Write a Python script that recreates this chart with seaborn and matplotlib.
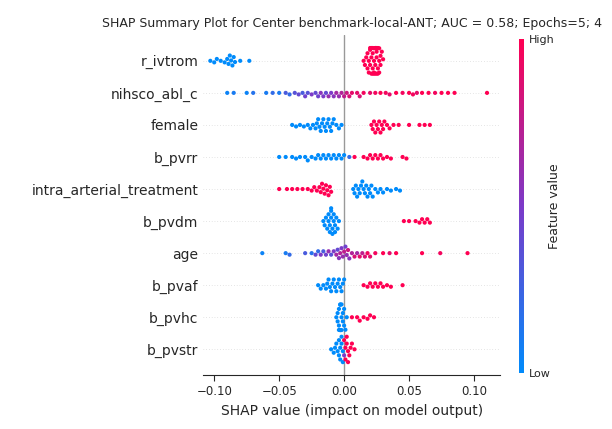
import numpy as np
import pandas as pd
import matplotlib
matplotlib.use("Agg")
import matplotlib.pyplot as plt
from matplotlib.colors import LinearSegmentedColormap
import seaborn as sns

FEATURES = ['r_ivtrom', 'nihsco_abl_c', 'female', 'b_pvrr', 'intra_arterial_treatment',
            'b_pvdm', 'age', 'b_pvaf', 'b_pvhc', 'b_pvstr']

# shap values and feature values (0 = low, 1 = high)
r_ivtrom_shap = [-0.103, -0.1, -0.098, -0.095, -0.092, -0.09, -0.089, -0.088, -0.087, -0.086, -0.085, -0.084, -0.08, -0.073,
                 0.015, 0.016, 0.017, 0.018, 0.018, 0.019, 0.019, 0.02, 0.02, 0.02, 0.021, 0.021, 0.021, 0.022, 0.022, 0.022,
                 0.022, 0.023, 0.023, 0.023, 0.023, 0.024, 0.024, 0.024, 0.024, 0.025, 0.025, 0.025, 0.025, 0.026, 0.026,
                 0.026, 0.027, 0.027, 0.027, 0.028, 0.028, 0.029, 0.03]
r_ivtrom_val = [0] * 14 + [1] * 39

nihsco_shap = [-0.09, -0.085, -0.075, -0.07, -0.06, -0.055, -0.05, -0.045, -0.042, -0.038, -0.035, -0.032, -0.03, -0.028,
               -0.025, -0.022, -0.02, -0.018, -0.016, -0.014, -0.012, -0.01, -0.008, -0.006, -0.004, -0.002, 0.0, 0.002,
               0.004, 0.006, 0.01, 0.012, 0.015, 0.02, 0.024, 0.028, 0.032, 0.035, 0.04, 0.045, 0.05, 0.053, 0.056,
               0.06, 0.065, 0.07, 0.075, 0.08, 0.085, 0.11]
nihsco_val = [0.05, 0.1, 0.05, 0.15, 0.1, 0.2, 0.1, 0.3, 0.2, 0.35, 0.4, 0.3, 0.45, 0.35, 0.5, 0.4, 0.45, 0.55, 0.5, 0.4,
              0.6, 0.5, 0.55, 0.65, 0.6, 0.7, 0.75, 0.8, 0.85, 0.9, 0.9, 0.85, 0.95, 0.9, 0.95, 1.0, 0.95, 0.9, 1.0, 0.95,
              1.0, 0.95, 0.9, 1.0, 1.0, 0.95, 1.0, 1.0, 1.0, 1.0]

female_shap = [-0.04, -0.037, -0.034, -0.031, -0.028, -0.026, -0.024, -0.022, -0.021, -0.02, -0.019, -0.018, -0.017,
               -0.016, -0.015, -0.014, -0.013, -0.012, -0.011, -0.01, -0.009, -0.008, -0.006, -0.004, -0.002,
               0.021, 0.022, 0.023, 0.024, 0.025, 0.026, 0.027, 0.028, 0.029, 0.03, 0.031, 0.033, 0.035, 0.038,
               0.042, 0.05, 0.058, 0.062, 0.066]
female_val = [0] * 25 + [1] * 19

b_pvrr_shap = [-0.05, -0.045, -0.04, -0.037, -0.034, -0.03, -0.028, -0.025, -0.022, -0.02, -0.018, -0.016, -0.014,
               -0.012, -0.01, -0.008, -0.006, -0.004, -0.002, 0.0, 0.004, 0.008, 0.015, 0.018, 0.02, 0.022, 0.024,
               0.026, 0.028, 0.03, 0.033, 0.036, 0.045, 0.048]
b_pvrr_val = [0] * 20 + [0.2, 1, 1, 1, 1, 1, 1, 1, 1, 1, 1, 1, 1, 1]

iat_shap = [-0.05, -0.044, -0.04, -0.036, -0.032, -0.028, -0.025, -0.023, -0.021, -0.019, -0.018, -0.017, -0.016,
            -0.015, -0.014, -0.013, -0.012, -0.011, -0.01, 0.007, 0.008, 0.009, 0.01, 0.011, 0.012, 0.013, 0.014,
            0.015, 0.016, 0.017, 0.018, 0.019, 0.02, 0.021, 0.022, 0.024, 0.026, 0.028, 0.03, 0.033, 0.036, 0.04, 0.043]
iat_val = [1] * 19 + [0] * 24

b_pvdm_shap = [-0.016, -0.015, -0.014, -0.013, -0.012, -0.012, -0.011, -0.011, -0.01, -0.01, -0.01, -0.009, -0.009,
               -0.008, -0.008, -0.007, -0.007, -0.006, -0.005, -0.004, 0.046, 0.05, 0.055, 0.058, 0.06, 0.062, 0.064, 0.066]
b_pvdm_val = [0] * 20 + [1] * 8

age_shap = [-0.063, -0.045, -0.042, -0.03, -0.025, -0.022, -0.02, -0.018, -0.016, -0.014, -0.012, -0.01, -0.008,
            -0.006, -0.005, -0.004, -0.003, -0.002, -0.001, 0.0, 0.001, 0.002, 0.003, 0.004, 0.006, 0.008, 0.01,
            0.012, 0.014, 0.016, 0.018, 0.02, 0.024, 0.03, 0.035, 0.04, 0.06, 0.074, 0.095]
age_val = [0.05, 0.1, 0.2, 0.3, 0.15, 0.4, 0.2, 0.5, 0.3, 0.45, 0.6, 0.35, 0.5, 0.65, 0.4, 0.55, 0.7, 0.5, 0.6, 0.75,
           0.45, 0.6, 0.8, 0.55, 0.7, 0.85, 0.65, 0.9, 0.75, 0.85, 0.95, 0.9, 0.95, 1.0, 0.9, 1.0, 1.0, 0.95, 1.0]

b_pvaf_shap = [-0.02, -0.018, -0.016, -0.014, -0.013, -0.012, -0.011, -0.01, -0.009, -0.008, -0.007, -0.006, -0.005,
               -0.004, -0.003, -0.002, -0.001, 0.0, 0.015, 0.018, 0.02, 0.022, 0.024, 0.026, 0.028, 0.03, 0.033,
               0.036, 0.045]
b_pvaf_val = [0] * 18 + [1] * 11

b_pvhc_shap = [-0.006, -0.005, -0.005, -0.004, -0.004, -0.004, -0.003, -0.003, -0.003, -0.003, -0.002, -0.002,
               -0.002, -0.001, -0.001, 0.0, 0.0, 0.001, 0.002, 0.006, 0.01, 0.012, 0.015, 0.018, 0.02, 0.023]
b_pvhc_val = [0] * 19 + [1] * 7

b_pvstr_shap = [-0.01, -0.008, -0.007, -0.006, -0.005, -0.004, -0.004, -0.003, -0.003, -0.002, -0.002, -0.001,
                -0.001, 0.0, 0.0, 0.001, 0.001, 0.002, 0.002, 0.003, 0.003, 0.004, 0.005, 0.006, 0.008]
b_pvstr_val = [0, 0, 0, 0, 0, 0, 0, 0, 0, 0, 0, 0, 0, 0.5, 1, 1, 1, 1, 1, 1, 1, 1, 1, 1, 1]

series = [
    (r_ivtrom_shap, r_ivtrom_val), (nihsco_shap, nihsco_val), (female_shap, female_val),
    (b_pvrr_shap, b_pvrr_val), (iat_shap, iat_val), (b_pvdm_shap, b_pvdm_val), (age_shap, age_val),
    (b_pvaf_shap, b_pvaf_val), (b_pvhc_shap, b_pvhc_val), (b_pvstr_shap, b_pvstr_val),
]
rows = []
for name, (s, v) in zip(FEATURES, series):
    for a, b in zip(s, v):
        rows.append({'feature': name, 'shap': a, 'value': b})
df = pd.DataFrame(rows)

cmap = LinearSegmentedColormap.from_list('shap_rb', ['#008bfb', '#7c3ac8', '#ff0052'])

sns.set_style('white')
fig = plt.figure(figsize=(6.12, 4.29), dpi=100)
ax = fig.add_axes([0.332, 0.126, 0.485, 0.792])

for i in range(len(FEATURES)):
    ax.axhline(i, color='#cccccc', lw=0.5, ls=(0, (1, 3)), zorder=0)
ax.axvline(0, color='#999999', lw=1, zorder=0)

sns.swarmplot(data=df, x='shap', y='feature', hue='value', order=FEATURES, palette=cmap,
              hue_norm=(0, 1), size=3, orient='h', legend=False, ax=ax, zorder=3, warn_thresh=1)

ax.set_xlim(-0.1085, 0.12)
ax.set_ylim(9.8, -0.8)
ax.set_xticks([-0.10, -0.05, 0.0, 0.05, 0.10])
ax.set_xticklabels(['\u22120.10', '\u22120.05', '0.00', '0.05', '0.10'], fontsize=8.5)
ax.set_xlabel('SHAP value (impact on model output)', fontsize=10)
ax.set_ylabel('')
ax.tick_params(axis='y', length=0, labelsize=10)
ax.tick_params(axis='x', length=4, bottom=True)
for sp in ['top', 'right', 'left']:
    ax.spines[sp].set_visible(False)
ax.set_title('SHAP Summary Plot for Center benchmark-local-ANT; AUC = 0.58; Epochs=5; 4', fontsize=9)

cax = fig.add_axes([0.848, 0.13, 0.008, 0.78])
sm = plt.cm.ScalarMappable(cmap=cmap, norm=plt.Normalize(0, 1))
cb = fig.colorbar(sm, cax=cax, ticks=[0, 1])
cb.set_ticklabels(['Low', 'High'])
cb.ax.tick_params(labelsize=8, length=0)
cb.outline.set_visible(False)
cb.set_label('Feature value', fontsize=9, labelpad=-5)

fig.savefig('out.png', dpi=100)
